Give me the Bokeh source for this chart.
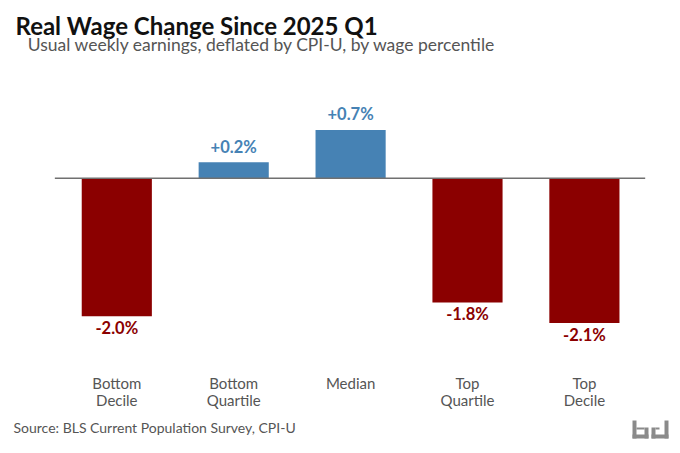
from bokeh.plotting import figure
from bokeh.models import ColumnDataSource, Label
from bokeh.core.properties import value
from bokeh.embed import file_html
from bokeh.resources import INLINE

# ---- data ----
categories = ["Bottom Decile", "Bottom Quartile", "Median", "Top Quartile", "Top Decile"]
cat_line1 = ["Bottom", "Bottom", "Median", "Top", "Top"]
cat_line2 = ["Decile", "Quartile", "", "Quartile", "Decile"]
changes = [-2.0, 0.23, 0.7, -1.8, -2.1]
title_text = "Real Wage Change Since 2025 Q1"
subtitle_text = "Usual weekly earnings, deflated by CPI-U, by wage percentile"
source_text = "Source: BLS Current Population Survey, CPI-U"

# ---- layout constants (pixels) ----
W, H = 676, 449
PX_X = 116.9          # pixels per category
PX_Y = 69.0           # pixels per 1 percentage point
X0_PX = 116.3         # canvas x of first category centre
Y0_PX = 177.7         # canvas y (from top) of zero line
TXT_SHIFT = 7.0       # baseline correction for svg text

xs = -X0_PX / PX_X
xe = xs + W / PX_X
ytop = Y0_PX / PX_Y
ybot = ytop - H / PX_Y

def px2x(X):
    return xs + X / PX_X

def px2y(Y):
    return ytop - Y / PX_Y

def tpy(Y):
    return px2y(Y - TXT_SHIFT)

BLUE = "#4682B4"
RED = "#8B0000"
FONT = "Lato"

p = figure(width=W, height=H, x_range=(xs, xe), y_range=(ybot, ytop),
           min_border=0, toolbar_location=None, output_backend="svg",
           x_axis_location=None, y_axis_location=None)
p.grid.visible = False
p.outline_line_color = None
p.background_fill_color = "white"
p.border_fill_color = "white"

n = len(categories)
xpos = list(range(n))
colors = [BLUE if v >= 0 else RED for v in changes]
labels = [("+" if v >= 0 else "") + f"{v:.1f}%" for v in changes]
lab_y = [v + (8.5 + TXT_SHIFT) / PX_Y if v >= 0 else v - (18.5 - TXT_SHIFT) / PX_Y for v in changes]

src = ColumnDataSource(dict(x=xpos, top=changes, color=colors, label=labels, ly=lab_y,
                            l1=cat_line1, l2=cat_line2))

p.vbar(x="x", top="top", bottom=0, width=0.6, fill_color="color", line_color=None, source=src)

# zero line
p.segment(x0=[-0.53], x1=[n - 1 + 0.52], y0=[0], y1=[0], line_color="#707070", line_width=1.5)

# value labels
p.text(x="x", y="ly", text="label", text_color="color", text_font=value(FONT),
       text_font_style="bold", text_font_size="16.5px", text_align="center",
       text_baseline="alphabetic", source=src)

# category labels
p.text(x="x", y=tpy(389), text="l1", text_color="#555555", text_font=value(FONT),
       text_font_size="15px", text_align="center", text_baseline="alphabetic", source=src)
p.text(x="x", y=tpy(406.7), text="l2", text_color="#555555", text_font=value(FONT),
       text_font_size="15px", text_align="center", text_baseline="alphabetic", source=src)

# title / subtitle / source
p.add_layout(Label(x=px2x(15), y=tpy(31.5), text=title_text, text_font=FONT,
                   text_font_style="bold", text_font_size="24px", text_color="#111111",
                   text_baseline="alphabetic"))
p.add_layout(Label(x=px2x(27.3), y=tpy(51), text=subtitle_text, text_font=FONT,
                   text_font_size="17.5px", text_color="#555555", text_baseline="alphabetic"))
p.add_layout(Label(x=px2x(13), y=tpy(434), text=source_text, text_font=FONT,
                   text_font_size="14px", text_color="#555555", text_baseline="alphabetic"))

# logo (decorative), canvas pixel boxes
logo_boxes = [
    (632, 636, 420, 438), (632, 648, 434, 438), (644, 648, 427, 438), (636, 644, 427, 429),
    (664, 668, 420, 438), (651, 668, 434, 438), (651, 655, 427, 438), (655, 659, 427, 429),
]
p.quad(left=[px2x(b[0]) for b in logo_boxes], right=[px2x(b[1]) for b in logo_boxes],
       top=[px2y(b[2]) for b in logo_boxes], bottom=[px2y(b[3]) for b in logo_boxes],
       fill_color="#8a8a8a", line_color=None)

open("out.html", "w").write(file_html(p, INLINE))
